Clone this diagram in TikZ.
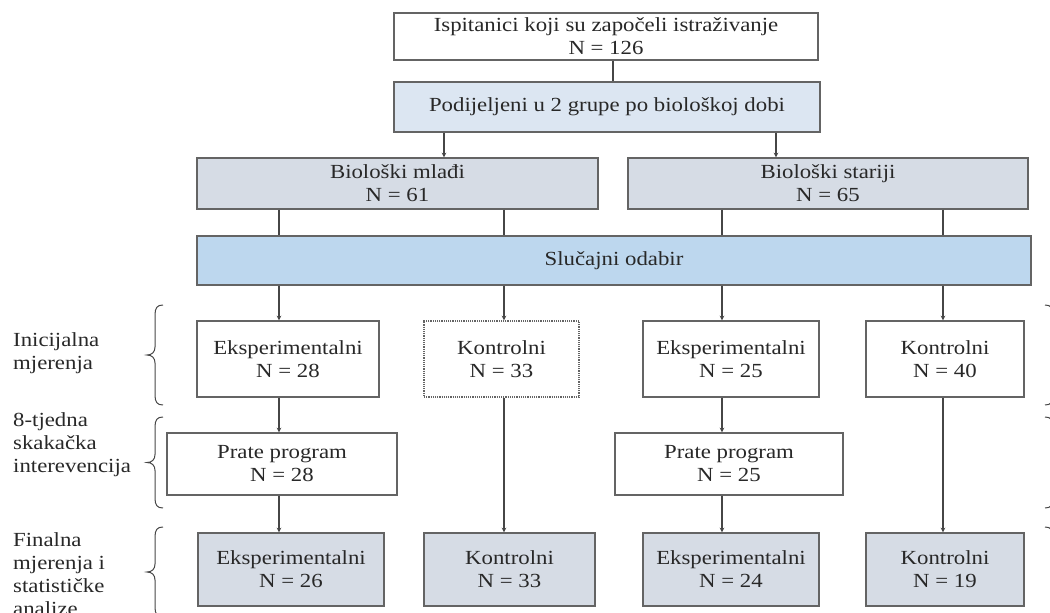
\documentclass[tikz,border=0pt]{standalone}
\usepackage{fontspec}
\setmainfont{Liberation Serif}[FakeStretch=1.14]
\usepackage{xcolor}
\usepackage{tikz}
\usetikzlibrary{shapes,arrows,positioning}

\definecolor{rub}{RGB}{100,100,100}
\definecolor{linija}{RGB}{70,70,70}
\definecolor{tekst}{RGB}{40,40,40}
\definecolor{svijetloplava}{RGB}{220,230,242}
\definecolor{plava}{RGB}{189,215,238}
\definecolor{siva}{RGB}{214,220,229}

\begin{document}
\begin{tikzpicture}[x=1pt, y=-1pt, >=stealth, text=tekst]
    % Define styles
    \tikzstyle{box} = [rectangle, draw=rub, line width=1.2pt, fill=white, align=center, inner sep=1pt, font=\fontsize{20}{23}\selectfont]
    \tikzstyle{greybox} = [box, fill=siva]
    \tikzstyle{bluebox} = [box, fill=plava]
    \tikzstyle{line} = [draw=linija, ->, line width=1.1pt]
    \tikzstyle{conn} = [draw=linija, line width=1.1pt]
    \tikzstyle{phase} = [align=left, inner sep=0pt, anchor=base west, font=\fontsize{20}{23}\selectfont]

    \useasboundingbox (0,0) rectangle (1050,613);
    \clip (0,0) rectangle (1050,613);

    % Top of the chart
    \node [box, minimum width=424pt, minimum height=47pt] (vrh) at (606,36.5) {Ispitanici koji su započeli istraživanje\\N = 126};
    \node [box, fill=svijetloplava, minimum width=426pt, minimum height=50pt] (podjela) at (607,107) {Podijeljeni u 2 grupe po biološkoj dobi};
    \node [greybox, minimum width=401pt, minimum height=51pt] (mladi) at (397.5,183.5) {Biološki mlađi\\N = 61};
    \node [greybox, minimum width=400pt, minimum height=51pt] (stariji) at (828,183.5) {Biološki stariji\\N = 65};
    \node [bluebox, minimum width=834pt, minimum height=49pt] (odabir) at (614,260.5) {Slučajni odabir};

    % Initial measurements
    \node [box, minimum width=182pt, minimum height=76pt] (eks1) at (288,359) {Eksperimentalni\\N = 28};
    \node [box, densely dotted, minimum width=155pt, minimum height=76pt] (kon1) at (501.5,359) {Kontrolni\\N = 33};
    \node [box, minimum width=176pt, minimum height=76pt] (eks2) at (731,359) {Eksperimentalni\\N = 25};
    \node [box, minimum width=158pt, minimum height=76pt] (kon2) at (945,359) {Kontrolni\\N = 40};

    % Jumping programme
    \node [box, minimum width=230pt, minimum height=62pt] (prog1) at (282,464) {Prate program\\N = 28};
    \node [box, minimum width=228pt, minimum height=62pt] (prog2) at (729,464) {Prate program\\N = 25};

    % Final measurements
    \node [greybox, minimum width=186pt, minimum height=73pt] (eksf1) at (291,569.5) {Eksperimentalni\\N = 26};
    \node [greybox, minimum width=171pt, minimum height=73pt] (konf1) at (509.5,569.5) {Kontrolni\\N = 33};
    \node [greybox, minimum width=176pt, minimum height=73pt] (eksf2) at (731,569.5) {Eksperimentalni\\N = 24};
    \node [greybox, minimum width=158pt, minimum height=73pt] (konf2) at (945,569.5) {Kontrolni\\N = 19};

    % Phase labels on the left (placed by the baseline of the last line)
    \node [phase] (lab1) at (13,369) {Inicijalna\\mjerenja};
    \node [phase] (lab2) at (13,472) {8-tjedna\\skakačka\\interevencija};
    \node [phase] (lab3) at (13,615) {Finalna\\mjerenja i\\statističke\\analize};

    % Braces (right ones are cut by the page edge)
    \foreach \gore/\dolje in {305/405, 417/508, 527/617} {
        \pgfmathsetmacro{\sred}{(\gore+\dolje)/2}
        \draw [linija, line width=1pt] (163,\gore) .. controls (157,\gore) and (155,\gore+3) .. (155,\gore+10) -- (155,\sred-8) .. controls (155,\sred-3) and (152,\sred) .. (147,\sred) .. controls (152,\sred) and (155,\sred+3) .. (155,\sred+8) -- (155,\dolje-10) .. controls (155,\dolje-3) and (157,\dolje) .. (163,\dolje);
        \draw [linija, line width=1pt] (1045,\gore) .. controls (1051,\gore) and (1053,\gore+3) .. (1053,\gore+10) -- (1053,\sred-8) .. controls (1053,\sred-3) and (1056,\sred) .. (1061,\sred) .. controls (1056,\sred) and (1053,\sred+3) .. (1053,\sred+8) -- (1053,\dolje-10) .. controls (1053,\dolje-3) and (1051,\dolje) .. (1045,\dolje);
    }

    % Column positions of the connectors
    \coordinate (k0) at (613,0);
    \coordinate (a1) at (444,0);
    \coordinate (a2) at (776,0);
    \coordinate (c1) at (279,0);
    \coordinate (c2) at (504,0);
    \coordinate (c3) at (722,0);
    \coordinate (c4) at (943,0);

    % Connectors
    \draw [conn] (vrh.south -| k0) -- (podjela.north -| k0);
    \draw [line] (podjela.south -| a1) -- (mladi.north -| a1);
    \draw [line] (podjela.south -| a2) -- (stariji.north -| a2);
    \draw [conn] (mladi.south -| c1) -- (odabir.north -| c1);
    \draw [conn] (mladi.south -| c2) -- (odabir.north -| c2);
    \draw [conn] (stariji.south -| c3) -- (odabir.north -| c3);
    \draw [conn] (stariji.south -| c4) -- (odabir.north -| c4);
    \draw [line] (odabir.south -| c1) -- (eks1.north -| c1);
    \draw [line] (odabir.south -| c2) -- (kon1.north -| c2);
    \draw [line] (odabir.south -| c3) -- (eks2.north -| c3);
    \draw [line] (odabir.south -| c4) -- (kon2.north -| c4);
    \draw [line] (eks1.south -| c1) -- (prog1.north -| c1);
    \draw [line] (eks2.south -| c3) -- (prog2.north -| c3);
    \draw [line] (kon1.south -| c2) -- (konf1.north -| c2);
    \draw [line] (kon2.south -| c4) -- (konf2.north -| c4);
    \draw [line] (prog1.south -| c1) -- (eksf1.north -| c1);
    \draw [line] (prog2.south -| c3) -- (eksf2.north -| c3);
\end{tikzpicture}
\end{document}
